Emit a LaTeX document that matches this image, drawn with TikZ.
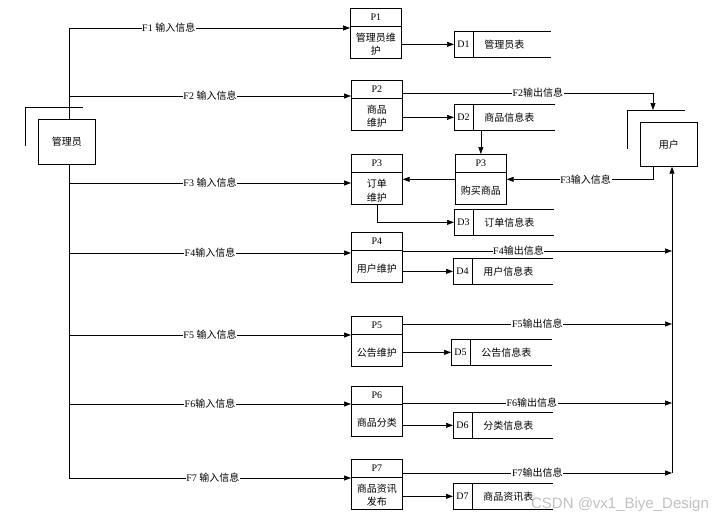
\documentclass[tikz,border=0pt]{standalone}
\usepackage{fontspec}
\setmainfont{Liberation Serif}
\newfontfamily\cjk{Noto Sans CJK SC}
\newfontfamily\wmfont{Liberation Sans}
\usetikzlibrary{arrows.meta,calc}
\newcommand\zh[1]{{\cjk #1}}
\tikzset{
  pbox/.style={draw, minimum width=51pt, minimum height=50pt, anchor=north west, inner sep=0pt},
  ext/.style={draw, minimum width=57pt, minimum height=45pt, anchor=north west, inner sep=0pt},
  sbox/.style={minimum height=26pt, anchor=north west, inner sep=0pt},
  arr/.style={-{Triangle[length=7pt,width=5pt]}},
  lbl/.style={fill=white, inner sep=0.6pt},
  txt/.style={inner sep=0pt, align=center}
}
\newcommand\procbox[5]{%
  \node[pbox] (#1) at (#2,#3) {};
  \draw ([yshift=-18pt]#1.north west) -- ([yshift=-18pt]#1.north east);
  \node[txt] (#1id) at ([yshift=-9.5pt]#1.north) {#4};
  \node[txt] (#1txt) at ([yshift=-36.5pt]#1.north) {#5};
}
\newcommand\dstore[6]{%
  \node[sbox, minimum width=#4pt] (#1) at (#2,#3) {};
  \draw (#1.north east) -- (#1.north west) -- (#1.south west) -- (#1.south east);
  \draw ([xshift=19pt]#1.north west) -- ([xshift=19pt]#1.south west);
  \node[txt] (#1id) at ([xshift=9.5pt]#1.west) {#5};
  \node[txt, anchor=west] (#1txt) at ([xshift=30pt]#1.west) {#6};
}
\begin{document}
\begin{tikzpicture}[x=1pt, y=-1pt, line width=0.7pt, font=\fontsize{10}{13}\selectfont]
\useasboundingbox (0,0) rectangle (726,523);

% external entities
\node[ext] (mgr) at (38,119) {\zh{管理员}};
\draw (83,107) -- (25,107) -- (25,146);
\node[ext, minimum height=44pt] (usr) at (640,122) {\zh{用户}};
\draw (685,110) -- (627,110) -- (627,149);
\coordinate (ubr) at (627,110);
\coordinate (uin) at ([xshift=13pt]usr.south west);
\coordinate (rb) at (672,473);

% processes
\procbox{p1}{350}{8}{P1}{\zh{管理员维}\\\zh{护}}
\procbox{p2}{351}{80}{P2}{\zh{商品}\\\zh{维护}}
\procbox{p3}{351}{154}{P3}{\zh{订单}\\[1pt]\zh{维护}}
\procbox{p3b}{455}{154}{P3}{\zh{购买商品}}
\procbox{p4}{351}{232}{P4}{\zh{用户维护}}
\procbox{p5}{351}{316}{P5}{\zh{公告维护}}
\procbox{p6}{351}{386}{P6}{\zh{商品分类}}
\procbox{p7}{351}{459}{P7}{\zh{商品资讯}\\\zh{发布}}

% data stores
\dstore{d1}{454}{31}{96}{D1}{\zh{管理员表}}
\dstore{d2}{454}{104}{100}{D2}{\zh{商品信息表}}
\dstore{d3}{454}{209}{99}{D3}{\zh{订单信息表}}
\dstore{d4}{453}{258}{99}{D4}{\zh{用户信息表}}
\dstore{d5}{451}{339}{100}{D5}{\zh{公告信息表}}
\dstore{d6}{453}{412}{99}{D6}{\zh{分类信息表}}
\dstore{d7}{453}{483}{99}{D7}{\zh{商品资讯表}}

% manager bus
\coordinate (b1) at (69,28);
\coordinate (b2) at (69,96);
\coordinate (b3) at (69,183);
\coordinate (b4) at (69,253);
\coordinate (b5) at (69,335);
\coordinate (b6) at (69,404);
\coordinate (b7) at (69,478);
\draw (b1) -- (b1 |- mgr.north);
\draw (b1 |- mgr.south) -- (b7);

\draw[arr] (b1) -- node[lbl,pos=.355] {F1 \zh{输入信息}} (b1 -| p1.west);
\draw[arr] (b2) -- node[lbl,pos=.5] {F2 \zh{输入信息}} (b2 -| p2.west);
\draw[arr] (b3) -- node[lbl,pos=.5] {F3 \zh{输入信息}} (b3 -| p3.west);
\draw[arr] (b4) -- node[lbl,pos=.5] {F4\zh{输入信息}} (b4 -| p4.west);
\draw[arr] (b5) -- node[lbl,pos=.5] {F5 \zh{输入信息}} (b5 -| p5.west);
\draw[arr] (b6) -- node[lbl,pos=.5] {F6\zh{输入信息}} (b6 -| p6.west);
\draw[arr] (b7) -- node[lbl,pos=.51] {F7 \zh{输入信息}} (b7 -| p7.west);

% process to store
\draw[arr] (d1.west -| p1.east) -- (d1.west);
\draw[arr] (d2.west -| p2.east) -- (d2.west);
\draw[arr] (p3.south) |- (d3.west);
\draw[arr] (d4.west -| p4.east) -- (d4.west);
\draw[arr] (d5.west -| p5.east) -- (d5.west);
\draw[arr] (d6.west -| p6.east) -- (d6.west);
\draw[arr] (d7.west -| p7.east) -- (d7.west);

% purchase
\draw[arr] (d2.south -| p3b.north) -- (p3b.north);
\draw[arr] (p3b.west) -- (p3b.west -| p3.east);
\draw[arr] (uin) -- (uin |- p3b.east) -- node[lbl,pos=.46] {F3\zh{输入信息}} (p3b.east);

% outputs to user
\draw[arr] ([yshift=-13pt]p2.north east) coordinate (o2) -- node[lbl,pos=.54] {F2\zh{输出信息}} (o2 -| uin) -- (uin |- ubr);
\draw[arr] (rb) -- (rb |- usr.south);
\draw[arr] ([yshift=-19pt]p4.north east) coordinate (o4) -- node[lbl,pos=.43] {F4\zh{输出信息}} (o4 -| rb);
\draw[arr] ([yshift=-8pt]p5.north east) coordinate (o5) -- node[lbl,pos=.5] {F5\zh{输出信息}} (o5 -| rb);
\draw[arr] ([yshift=-17pt]p6.north east) coordinate (o6) -- node[lbl,pos=.48] {F6\zh{输出信息}} (o6 -| rb);
\draw[arr] ([yshift=-14pt]p7.north east) coordinate (o7) -- node[lbl,pos=.5] {F7\zh{输出信息}} (o7 -| rb);

% watermark
\node[text=gray, text opacity=0.5, inner sep=0pt, font=\wmfont\fontsize{15}{15}\selectfont] (wm) at (620,505) {CSDN @vx1\_Biye\_Design};
\end{tikzpicture}
\end{document}
